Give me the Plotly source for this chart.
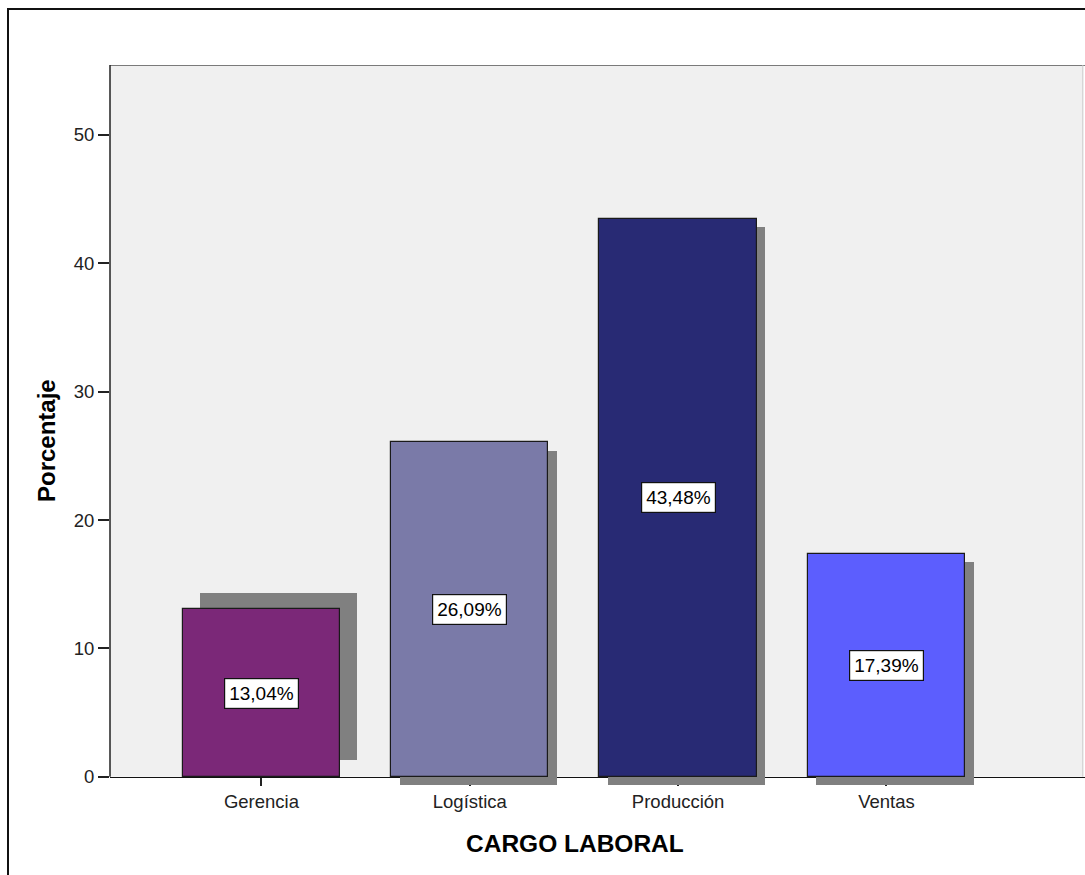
import plotly.graph_objects as go

# ---- data ----
categories = ["Gerencia", "Logística", "Producción", "Ventas"]
percentages = [13.04, 26.09, 43.48, 17.39]
labels = ["13,04%", "26,09%", "43,48%", "17,39%"]
y_ticks = [0, 10, 20, 30, 40, 50]

# ---- styles ----
bar_colors = ["#7B2878", "#7A7AA8", "#282A74", "#5C5EFE"]
shadow_color = "#808080"
BAR_W = 0.755
shadow_dx = [0.081, 0.041, 0.041, 0.041]      # category units
shadow_base = [1.3, -0.68, -0.68, -0.68]       # value units
FONT = "Arial, Liberation Sans, sans-serif"

W, H = 1085, 875
Y_TOP = 55.45
Y_BOT = -0.72
x_dom = [110 / W, 1.0]
y_dom = [(H - 786) / H, (H - 65) / H]
x_axis_pos = y_dom[0] + (0 - Y_BOT) / (Y_TOP - Y_BOT) * (y_dom[1] - y_dom[0])

fig = go.Figure()

# shadows
fig.add_trace(go.Bar(
    x=categories, y=percentages, base=shadow_base,
    width=BAR_W, offset=[-BAR_W / 2 + d for d in shadow_dx],
    marker=dict(color=shadow_color, line=dict(width=0)),
    hoverinfo="skip", showlegend=False,
))
# bars
fig.add_trace(go.Bar(
    x=categories, y=percentages, width=BAR_W,
    marker=dict(color=bar_colors, line=dict(color="#1a1a1a", width=1.2)),
    showlegend=False,
))

# value labels
for c, v, t in zip(categories, percentages, labels):
    fig.add_annotation(
        x=c, y=v / 2, text=t, showarrow=False,
        xanchor="center", yanchor="middle",
        font=dict(family=FONT, size=19, color="#000"),
        bgcolor="white", bordercolor="#111", borderwidth=1.2, borderpad=4,
    )

# plot background (from 0 up), borders, outer frame
fig.add_shape(type="rect", xref="paper", yref="y", x0=x_dom[0], x1=0.998,
              y0=0, y1=Y_TOP, fillcolor="#F0F0F0",
              line=dict(width=0), layer="below")
fig.add_shape(type="line", xref="paper", yref="y", x0=x_dom[0], x1=1.0,
              y0=Y_TOP, y1=Y_TOP, line=dict(color="#7a7a7a", width=2))
fig.add_shape(type="line", xref="paper", yref="y", x0=x_dom[0], x1=x_dom[0],
              y0=0, y1=Y_TOP, line=dict(color="#222", width=1.5))
fig.add_shape(type="line", xref="paper", yref="y", x0=0.998, x1=0.998,
              y0=0, y1=Y_TOP, line=dict(color="#c8c8c8", width=1))
fig.add_shape(type="rect", xref="paper", yref="paper",
              x0=8 / W, x1=1.05, y0=-0.05, y1=(H - 9) / H,
              line=dict(color="#111", width=2))

# axis titles
fig.add_annotation(x=46 / W, y=(H - 441) / H, xref="paper", yref="paper",
                   xanchor="center", yanchor="middle",
                   text="<b>Porcentaje</b>", textangle=-90, showarrow=False,
                   font=dict(family=FONT, size=24, color="#000"))
fig.add_annotation(x=574.5 / W, y=(H - 843) / H, xref="paper", yref="paper",
                   xanchor="center", yanchor="middle",
                   text="<b>CARGO LABORAL</b>", showarrow=False,
                   font=dict(family=FONT, size=24.5, color="#000"))

fig.update_layout(
    width=W, height=H,
    margin=dict(l=0, r=0, t=0, b=0),
    paper_bgcolor="white", plot_bgcolor="rgba(0,0,0,0)",
    barmode="overlay", bargap=0,
    font=dict(family=FONT, color="#222"),
    xaxis=dict(
        domain=x_dom, range=[-0.727, 3.953], type="category",
        anchor="free", position=x_axis_pos,
        showline=True, linecolor="#111", linewidth=1.2,
        ticks="outside", ticklen=8, tickcolor="#222", tickwidth=1.5,
        tickfont=dict(family=FONT, size=18.5, color="#222"),
        showgrid=False, zeroline=False, layer="below traces",
    ),
    yaxis=dict(
        domain=y_dom, range=[Y_BOT, Y_TOP],
        tickvals=y_ticks, ticktext=[str(v) for v in y_ticks],
        ticks="outside", ticklen=11, tickcolor="#222", tickwidth=1.5,
        tickfont=dict(family=FONT, size=18.5, color="#222"),
        showline=False, showgrid=False, zeroline=False,
    ),
)

fig.write_html("out.html")
